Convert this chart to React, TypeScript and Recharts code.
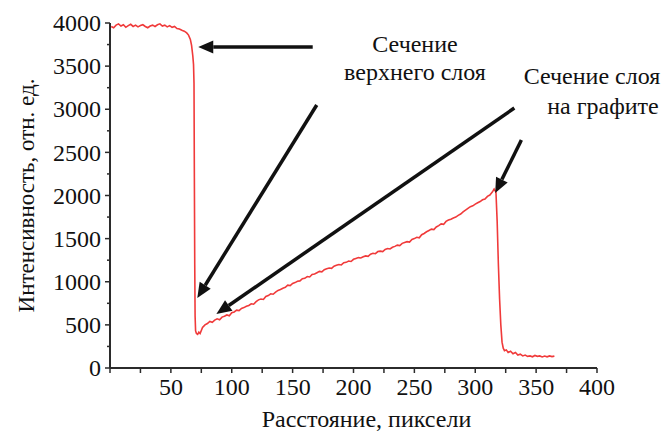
import { LineChart, Line, XAxis, YAxis, ReferenceLine, Label } from "recharts";

// profile along the scan line: [distance px, intensity]
const topLayer: Array<[number, number]> = [
  [1, 3960], [3, 3945], [5, 3975], [7, 3990], [9, 3965], [11, 3980], [13, 3950], [15, 3970],
  [17, 3985], [19, 3960], [21, 3975], [23, 3955], [25, 3970], [27, 3980], [29, 3960], [31, 3945],
  [33, 3965], [35, 3975], [37, 3960], [39, 3980], [41, 3990], [43, 3965], [45, 3975], [47, 3955],
  [49, 3970], [51, 3950], [53, 3960], [55, 3935], [57, 3930], [59, 3915], [61, 3905], [63, 3885],
  [64.5, 3860], [66, 3810], [67, 3740], [68, 3620], [68.6, 3520], [69, 3300], [69.3, 2200],
  [69.6, 1200], [69.9, 600], [70.3, 430], [71, 400], [72, 390], [73, 415], [74, 400],
];

const graphiteLayer: Array<[number, number]> = [
  [76, 470], [78, 500], [80, 515], [82, 540], [84, 530], [86, 555], [88, 570], [90, 560],
  [92, 590], [94, 600], [96, 615], [98, 605], [100, 640], [102, 650], [104, 670], [106, 665],
  [108, 690], [110, 700], [112, 715], [114, 725], [116, 745], [118, 740], [120, 770], [122, 790],
  [124, 800], [126, 795], [128, 830], [130, 840], [132, 860], [134, 855], [136, 880], [138, 900],
  [140, 910], [142, 925], [144, 935], [146, 960], [148, 955], [150, 980], [152, 990], [154, 1005],
  [156, 1010], [158, 1035], [160, 1040], [162, 1060], [164, 1055], [166, 1085], [168, 1090],
  [170, 1105], [172, 1120], [174, 1115], [176, 1140], [178, 1150], [180, 1160], [182, 1155],
  [184, 1180], [186, 1190], [188, 1200], [190, 1195], [192, 1220], [194, 1225], [196, 1240],
  [198, 1235], [200, 1260], [202, 1270], [204, 1280], [206, 1275], [208, 1290], [210, 1300],
  [212, 1295], [214, 1320], [216, 1330], [218, 1325], [220, 1350], [222, 1355], [224, 1350],
  [226, 1375], [228, 1385], [230, 1380], [232, 1400], [234, 1410], [236, 1425], [238, 1420],
  [240, 1445], [242, 1455], [244, 1465], [246, 1460], [248, 1490], [250, 1500], [252, 1515],
  [254, 1510], [256, 1545], [258, 1560], [260, 1580], [262, 1595], [264, 1610], [266, 1605],
  [268, 1635], [270, 1650], [272, 1670], [274, 1665], [276, 1700], [278, 1715], [280, 1725],
  [282, 1740], [284, 1750], [286, 1770], [288, 1785], [290, 1810], [292, 1830], [294, 1850],
  [296, 1870], [298, 1880], [300, 1900], [302, 1915], [304, 1930], [306, 1950], [308, 1960],
  [310, 1990], [312, 2005], [314, 2040], [315.5, 2075],
];

const substrate: Array<[number, number]> = [
  [317, 2040], [318, 1700], [319, 1200], [320, 800], [321, 500], [322, 300], [323, 230],
  [324, 200], [325.5, 210], [327, 180], [329, 195], [331, 165], [333, 180], [335, 150],
  [337, 160], [339, 140], [341, 150], [343, 135], [345, 140], [347, 130], [349, 145],
  [351, 135], [353, 140], [355, 128], [357, 138], [359, 130], [361, 140], [363, 132], [365, 138],
];

const xTicks = [0, 25, 50, 75, 100, 125, 150, 175, 200, 225, 250, 275, 300, 325, 350, 375, 400];
const yTicks = [0, 250, 500, 750, 1000, 1250, 1500, 1750, 2000, 2250, 2500, 2750, 3000, 3250, 3500, 3750, 4000];

// arrows: [fromX, fromY, toX, toY] in data units
const arrows: Array<[number, number, number, number]> = [
  [166.5, 3722, 72.5, 3722],
  [169.8, 3049, 71.7, 812],
  [332.1, 3014, 87.4, 626],
  [337.9, 2643, 316.4, 2029],
];

const notes = [
  { text: "Сечение", x: 415, y: 53 },
  { text: "верхнего слоя", x: 415, y: 81 },
  { text: "Сечение слоя", x: 592, y: 85 },
  { text: "на графите", x: 603, y: 115 },
];

const data = [...topLayer, ...graphiteLayer, ...substrate].map(([x, v]) => ({ x, v }));

const FONT = "Liberation Serif, DejaVu Serif, serif";
const AXIS = "#2b2b2b";

const XTick = ({ x, y, payload }: any) => {
  const v = payload.value;
  const show = v > 0 && v % 50 === 0;
  return (
    <g>
      <line x1={x} x2={x} y1={y} y2={y + 5} stroke={AXIS} strokeWidth={1.5} />
      {show && (
        <text x={x} y={y + 27} textAnchor="middle" fontSize={24} fontFamily={FONT} fill="#111">
          {v}
        </text>
      )}
    </g>
  );
};

const YTick = ({ x, y, payload }: any) => {
  const v = payload.value;
  const major = v % 500 === 0;
  return (
    <g>
      <line x1={x - (major ? 5 : 3)} x2={x} y1={y} y2={y} stroke={AXIS} strokeWidth={1.5} />
      {major && (
        <text x={x - 9} y={y} dy="0.34em" textAnchor="end" fontSize={24} fontFamily={FONT} fill="#111">
          {v}
        </text>
      )}
    </g>
  );
};

const ArrowShape = ({ x1, y1, x2, y2 }: any) => {
  const dx = x2 - x1;
  const dy = y2 - y1;
  const len = Math.sqrt(dx * dx + dy * dy) || 1;
  const ux = dx / len;
  const uy = dy / len;
  const head = 15;
  const half = 6.5;
  const bx = x2 - ux * head;
  const by = y2 - uy * head;
  return (
    <g>
      <line x1={x1} y1={y1} x2={bx} y2={by} stroke="#111" strokeWidth={3.5} />
      <polygon
        points={`${x2},${y2} ${bx - uy * half},${by + ux * half} ${bx + uy * half},${by - ux * half}`}
        fill="#111"
      />
    </g>
  );
};

const App = () => {
  return (
    <div style={{ position: "absolute", left: 0, top: 0, width: 664, height: 432, background: "#fff" }}>
      <LineChart width={664} height={432} data={data} margin={{ top: 23, right: 67, bottom: 0, left: 0 }}>
        <XAxis
          type="number"
          dataKey="x"
          domain={[0, 400]}
          ticks={xTicks}
          interval={0}
          height={64}
          tickSize={0}
          tickMargin={0}
          tickLine={false}
          axisLine={{ stroke: AXIS, strokeWidth: 2 }}
          tick={<XTick />}
        >
          <Label
            content={({ viewBox }: any) => (
              <text
                x={viewBox.x + viewBox.width / 2 + 13}
                y={viewBox.y + 59}
                textAnchor="middle"
                fontSize={24}
                fontFamily={FONT}
                fill="#111"
              >
                Расстояние, пиксели
              </text>
            )}
          />
        </XAxis>
        <YAxis
          type="number"
          domain={[0, 4000]}
          ticks={yTicks}
          interval={0}
          width={110}
          tickSize={0}
          tickMargin={0}
          tickLine={false}
          axisLine={{ stroke: AXIS, strokeWidth: 2 }}
          tick={<YTick />}
        >
          <Label
            content={({ viewBox }: any) => {
              const cx = 26;
              const cy = viewBox.y + viewBox.height / 2;
              return (
                <text
                  x={cx}
                  y={cy}
                  dy="0.34em"
                  transform={`rotate(-90 ${cx} ${cy})`}
                  textAnchor="middle"
                  fontSize={23}
                  fontFamily={FONT}
                  fill="#111"
                >
                  Интенсивность, отн. ед.
                </text>
              );
            }}
          />
        </YAxis>
        <Line
          type="linear"
          dataKey="v"
          stroke="#f03a3a"
          strokeWidth={1.6}
          dot={false}
          isAnimationActive={false}
        />
        {arrows.map(([fx, fy, tx, ty], i) => (
          <ReferenceLine
            key={i}
            segment={[{ x: fx, y: fy }, { x: tx, y: ty }]}
            ifOverflow="visible"
            shape={<ArrowShape />}
          />
        ))}
      </LineChart>
      {notes.map((n) => (
        <div
          key={n.text}
          style={{
            position: "absolute",
            left: n.x - 100,
            top: n.y - 23,
            width: 200,
            textAlign: "center",
            fontFamily: FONT,
            fontSize: 24,
            lineHeight: "28px",
            color: "#111",
            whiteSpace: "nowrap",
          }}
        >
          {n.text}
        </div>
      ))}
    </div>
  );
};

export default App;
